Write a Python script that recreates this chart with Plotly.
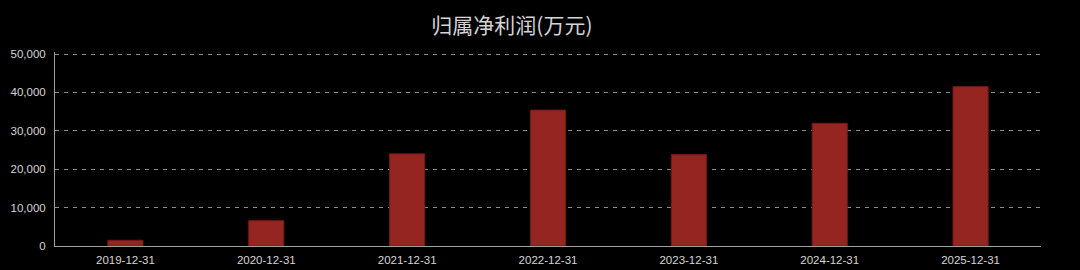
import plotly.graph_objects as go

categories = ["2019-12-31", "2020-12-31", "2021-12-31", "2022-12-31", "2023-12-31", "2024-12-31", "2025-12-31"]
values = [1500, 6600, 24000, 35400, 23800, 31950, 41500]
tick_vals = [0, 10000, 20000, 30000, 40000, 50000]
tick_text = ["0", "10,000", "20,000", "30,000", "40,000", "50,000"]
title = "归属净利润(万元)"

fig = go.Figure(go.Bar(
    x=categories, y=values,
    marker=dict(color="#952520", line=dict(color="#6e1a16", width=1)),
    width=0.25,
))

fig.update_layout(
    width=1080, height=270,
    paper_bgcolor="#000000", plot_bgcolor="#000000",
    margin=dict(l=55, r=39, t=52, b=24),
    title=dict(text=title, xref="container", x=0.474, xanchor="center", yref="container", y=0.905, yanchor="middle",
               font=dict(size=21, color="#d4d4d4", family="Noto Sans CJK SC")),
    showlegend=False,
    font=dict(family="Liberation Sans, Arial", color="#cccccc", size=11),
)
fig.update_xaxes(type="category", showgrid=False, showline=True, linecolor="#a0a0a0", linewidth=1,
                 ticks="", automargin=False, ticklabelstandoff=3, tickfont=dict(size=11.5, color="#d6d6d6"))
fig.update_yaxes(range=[0, 50520], tickvals=tick_vals, ticktext=tick_text, automargin=False,
                 showgrid=True, gridcolor="#8c8c8c", griddash="4px,5px", gridwidth=1,
                 showline=True, linecolor="#a0a0a0", linewidth=1, zeroline=False,
                 ticks="", ticklabelstandoff=6, tickfont=dict(size=11.5, color="#d6d6d6"))

fig.write_html("out.html")
